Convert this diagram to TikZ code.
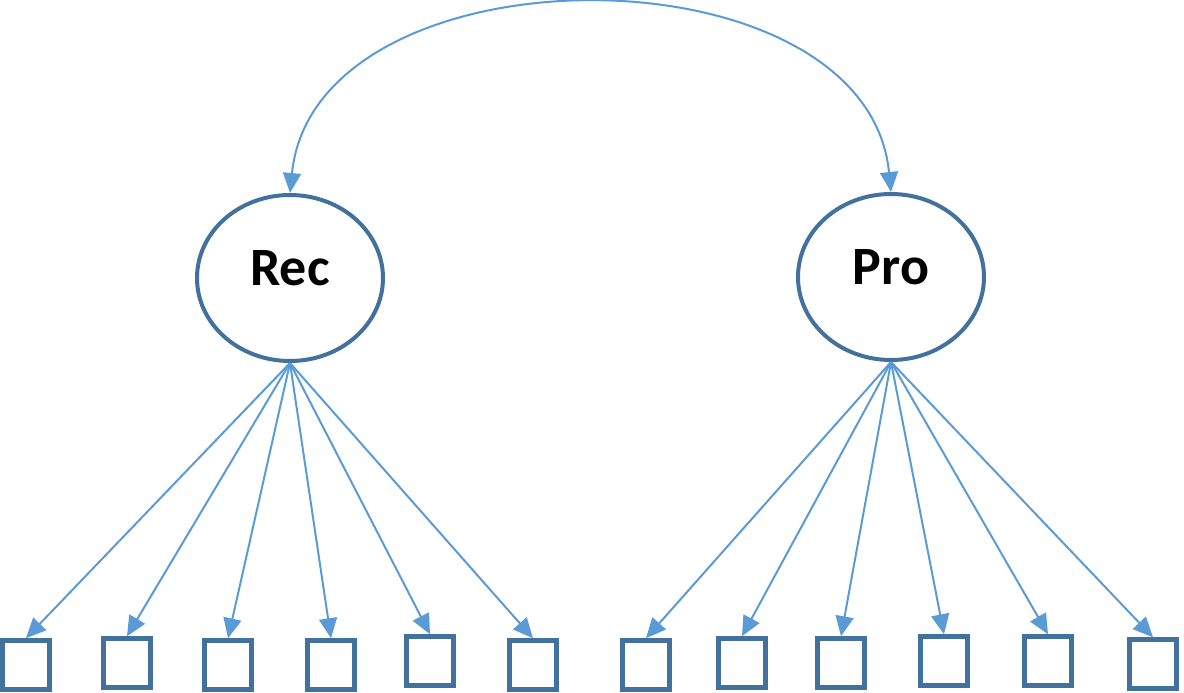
\documentclass[tikz,border=0pt]{standalone}
\usepackage{fontspec}
\setmainfont{Carlito}
\usetikzlibrary{arrows.meta,shapes.geometric}
\definecolor{latentblue}{HTML}{41719C}
\definecolor{pathblue}{HTML}{5B9BD5}
\begin{document}
\begin{tikzpicture}
[x=1pt,y=-1pt,
  latentdecorate/.style={shape=ellipse,draw=latentblue,line width=4pt,%
    minimum width=186pt,minimum height=166pt,inner sep=0pt,%
    text height=35pt,text depth=21pt,%
    font=\fontsize{54}{60}\selectfont\bfseries},%
  itemdecorate/.style={shape=rectangle,draw=latentblue,line width=4.5pt,%
    minimum width=47pt,minimum height=49pt,inner sep=0pt},%
  linedecorate/.style={draw=pathblue,line width=2pt,%
    -{Triangle[length=20pt,width=18pt]}}]
\useasboundingbox (0,0) rectangle (1184,693);
%% latent variables
\node (rec) at (290,278) [latentdecorate] {Rec};
\node (pro) at (891,277) [latentdecorate] {Pro};
%% indicators
\foreach \nodename/\x/\y in {r1/26/665, r2/127/663, r3/228/665,
  r4/331/665, r5/430/661, r6/533/665, p1/646/665, p2/742/663,
  p3/841/663, p4/944/661, p5/1048/661, p6/1153/664}
{
  \node (\nodename) at (\x,\y) [itemdecorate] {};
}
%% loadings
\path
\foreach \endnode in {r1, r2, r3, r4, r5, r6}
{
  (rec.south) edge[linedecorate] (\endnode.north)
}
\foreach \endnode in {p1, p2, p3, p4, p5, p6}
{
  (pro.south) edge[linedecorate] (\endnode.north)
};
%% covariance
\draw[linedecorate,{Triangle[length=20pt,width=18pt]}-{Triangle[length=20pt,width=18pt]}]
  (rec.north) .. controls +(25,-250) and +(-25,-250) .. (pro.north);
\end{tikzpicture}
\end{document}
